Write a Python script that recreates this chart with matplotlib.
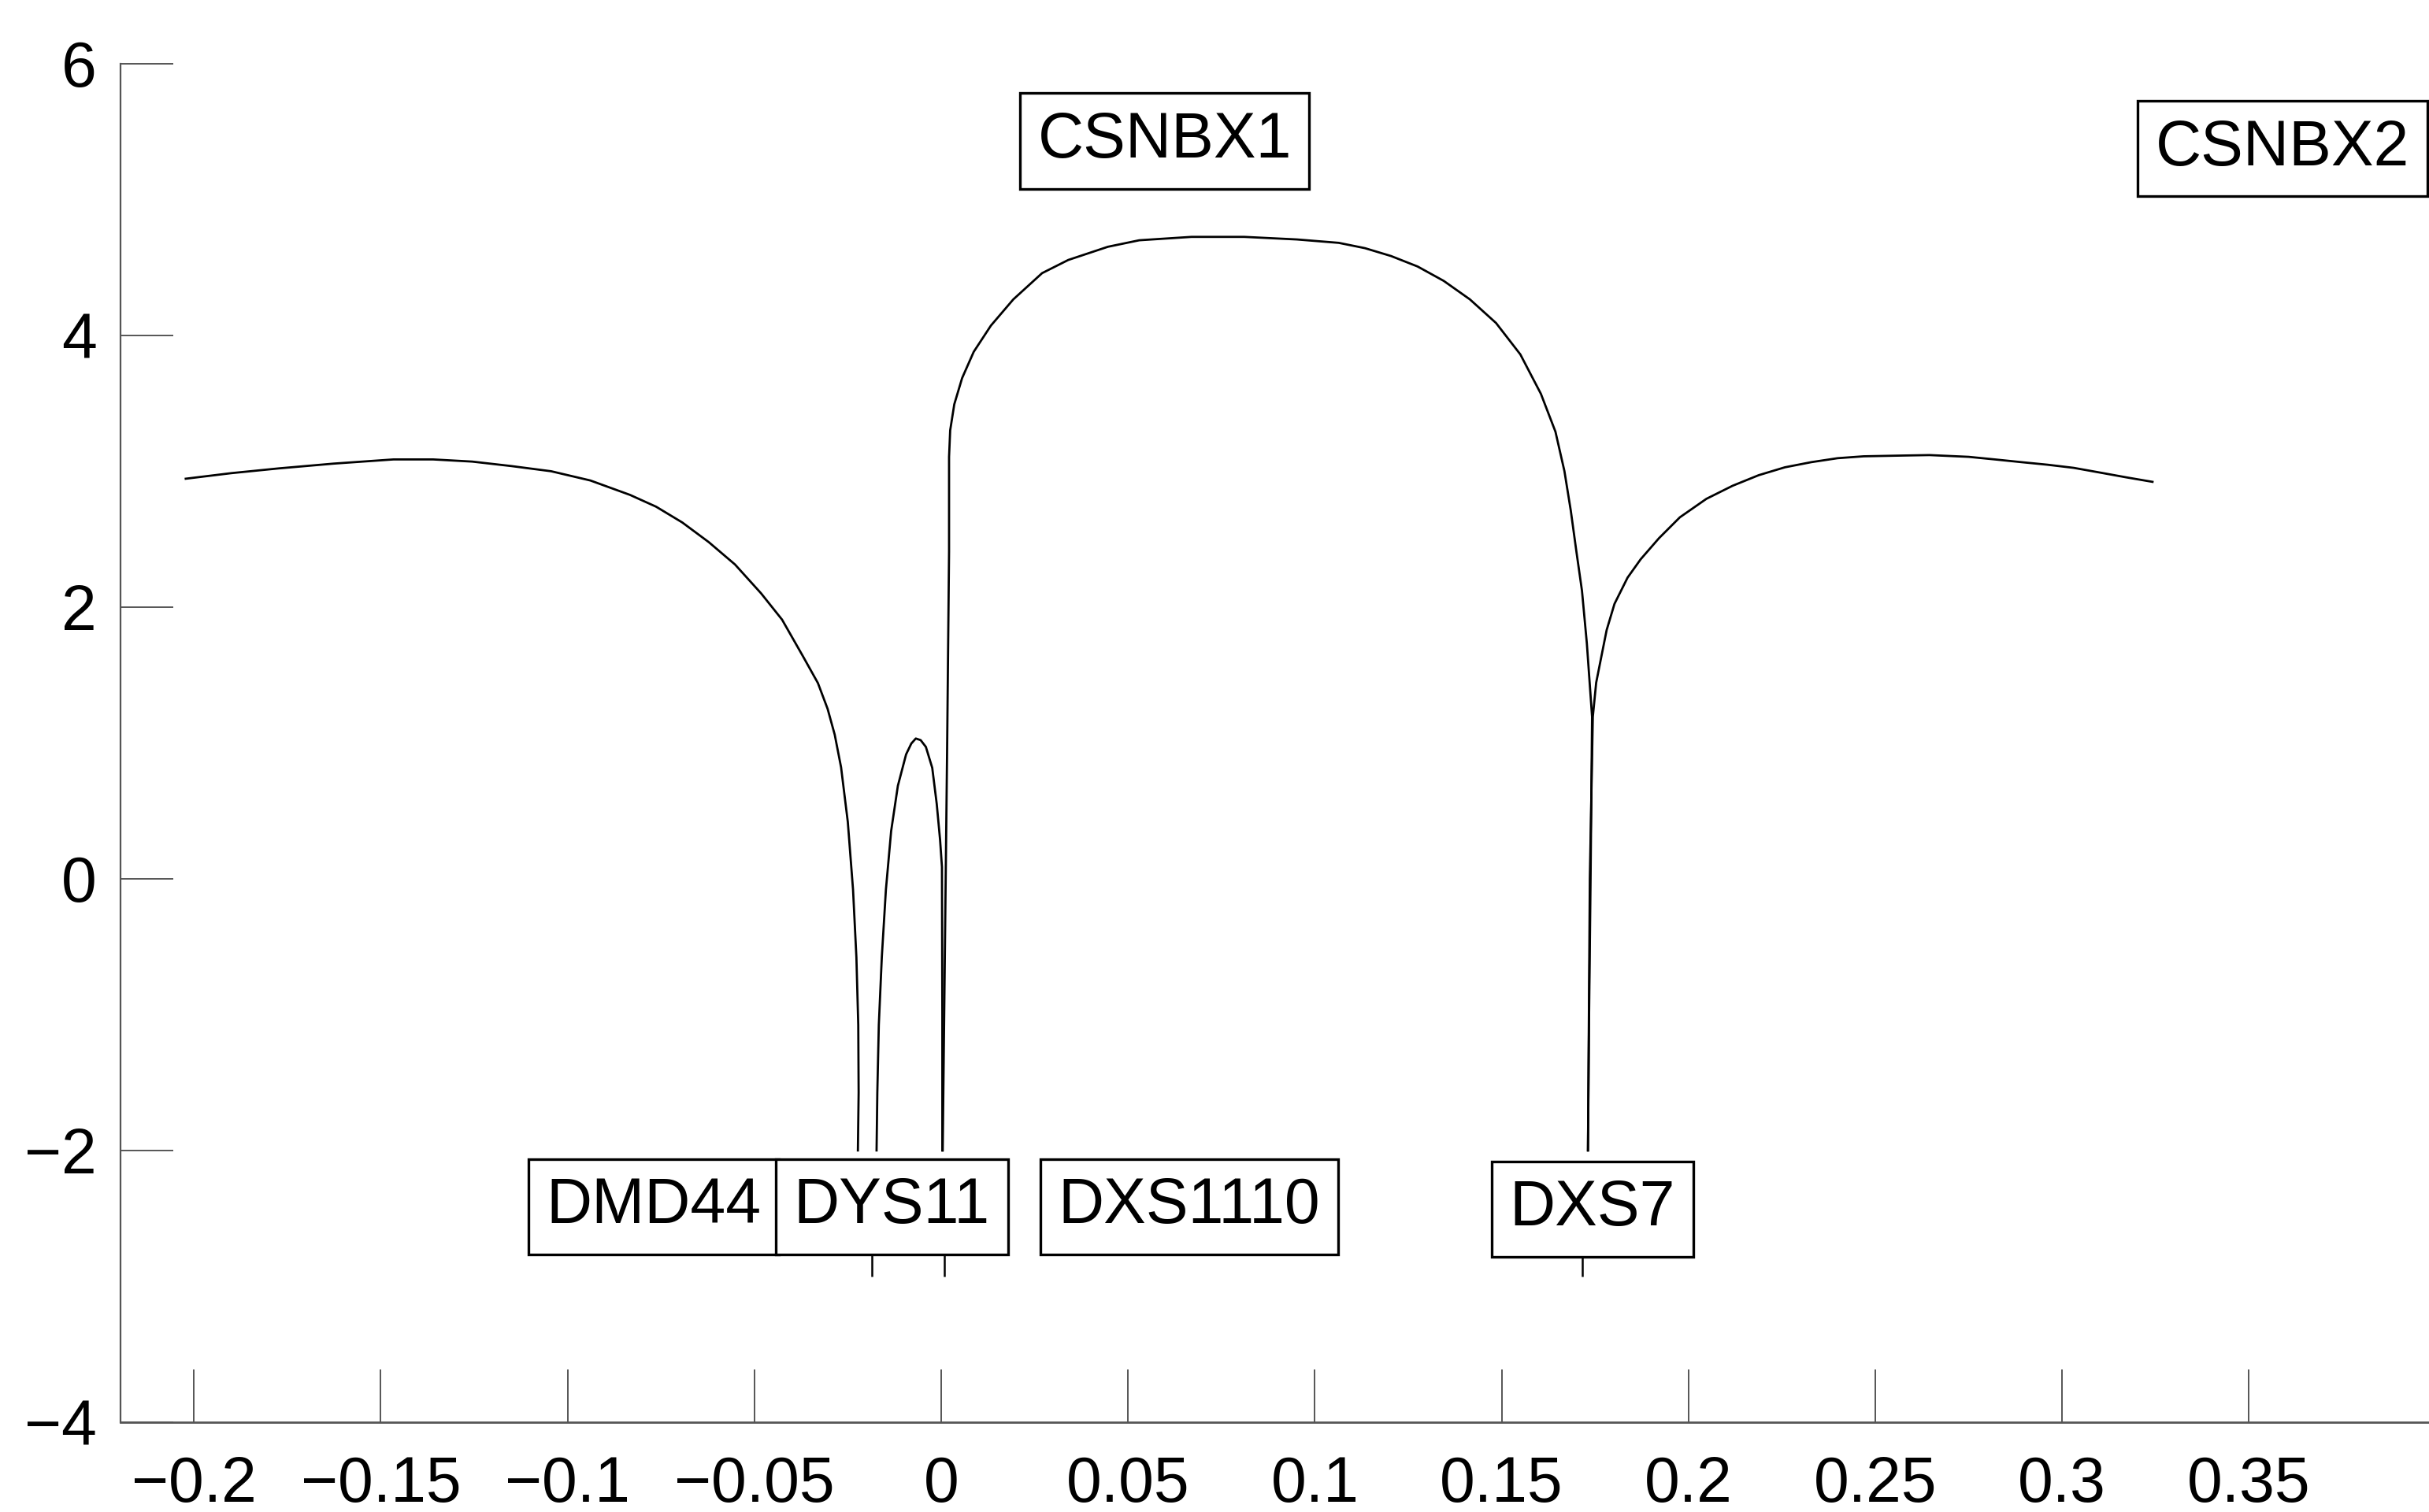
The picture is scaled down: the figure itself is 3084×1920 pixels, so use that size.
import matplotlib
matplotlib.use("Agg")
import matplotlib.pyplot as plt

plt.rcParams['font.family'] = ['Liberation Sans', 'DejaVu Sans']

# ---- data ----
# left LOD segment (ends at marker DMD44/DYS11)
seg1_x = [-0.2022, -0.1900, -0.1773, -0.1627, -0.1466, -0.1360, -0.1255, -0.1150,
          -0.1044, -0.0939, -0.0833, -0.0763, -0.0693, -0.0622, -0.0552, -0.0482,
          -0.0426, -0.0370, -0.0330, -0.0304, -0.0285, -0.0268, -0.0250, -0.0236,
          -0.0227, -0.0222, -0.0221, -0.0223]
seg1_y = [2.944, 2.985, 3.020, 3.055, 3.086, 3.086, 3.070, 3.037,
          2.999, 2.931, 2.825, 2.738, 2.622, 2.477, 2.313, 2.100,
          1.907, 1.637, 1.440, 1.250, 1.060, 0.820, 0.418, -0.080,
          -0.578, -1.076, -1.574, -2.0]

# small peak between DYS11 and DXS1110
seg2_x = [-0.0173, -0.0171, -0.0167, -0.0159, -0.0148, -0.0134, -0.0116, -0.0094,
          -0.0080, -0.0068, -0.0055, -0.0041, -0.0024, -0.0012, -0.0003, 0.0002,
          0.0003, 0.0003]
seg2_y = [-2.0, -1.574, -1.076, -0.578, -0.080, 0.351, 0.684, 0.915,
          0.995, 1.032, 1.020, 0.970, 0.816, 0.551, 0.285, 0.086,
          -1.0, -2.0]

# central hump between DXS1110 and DXS7
seg3_x = [0.0004, 0.0010, 0.0016, 0.0021, 0.0021, 0.0024, 0.0035, 0.0056, 0.0087,
          0.0133, 0.0193, 0.0270, 0.0340, 0.0446, 0.0530, 0.0670, 0.0811, 0.0952,
          0.1064, 0.1134, 0.1204, 0.1275, 0.1345, 0.1415, 0.1485, 0.1550, 0.1605,
          0.1644, 0.1668, 0.1685, 0.1700, 0.1715, 0.1728, 0.1738, 0.1742, 0.1738,
          0.1734, 0.1731]
seg3_y = [-2.0, -0.5, 1.0, 2.409, 3.105, 3.300, 3.492, 3.685, 3.878,
          4.071, 4.264, 4.457, 4.554, 4.651, 4.699, 4.724, 4.724, 4.705,
          4.680, 4.641, 4.583, 4.506, 4.400, 4.264, 4.090, 3.859, 3.569,
          3.290, 3.000, 2.710, 2.409, 2.119, 1.733, 1.347, 1.192, 0.0,
          -1.0, -2.0]

# right segment after DXS7
seg4_x = [0.1731, 0.1736, 0.1744, 0.1753, 0.1767, 0.1781, 0.1802, 0.1837, 0.1872,
          0.1921, 0.1977, 0.2048, 0.2118, 0.2188, 0.2258, 0.2329, 0.2399, 0.2469,
          0.2582, 0.2645, 0.2750, 0.2820, 0.2891, 0.2961, 0.3031, 0.3102, 0.3172,
          0.3242]
seg4_y = [-2.0, 0.0, 1.192, 1.443, 1.637, 1.830, 2.023, 2.216, 2.351,
          2.506, 2.660, 2.796, 2.892, 2.970, 3.028, 3.066, 3.095, 3.109,
          3.115, 3.118, 3.105, 3.086, 3.066, 3.047, 3.024, 2.989, 2.954,
          2.921]

marker_x = [-0.0185, 0.0009, 0.1716]

labels = ["DMD44", "DYS11", "DXS1110", "DXS7", "CSNBX1", "CSNBX2"]
label_x = [-0.0770, -0.0132, 0.0664, 0.1743, 0.0598, 0.3590]
label_y = [-2.415, -2.415, -2.415, -2.43, 5.43, 5.373]

xticks = [-0.2, -0.15, -0.1, -0.05, 0, 0.05, 0.1, 0.15, 0.2, 0.25, 0.3, 0.35]
xtick_labels = ["\u22120.2", "\u22120.15", "\u22120.1", "\u22120.05", "0", "0.05",
                "0.1", "0.15", "0.2", "0.25", "0.3", "0.35"]
yticks = [-4, -2, 0, 2, 4, 6]
ytick_labels = ["\u22124", "\u22122", "0", "2", "4", "6"]

# ---- figure ----
fig = plt.figure(figsize=(15.42, 9.6), dpi=200)
ax = fig.add_axes([0.0497, 0.0594, 0.9503, 0.8986])

for sx, sy in [(seg1_x, seg1_y), (seg2_x, seg2_y), (seg3_x, seg3_y), (seg4_x, seg4_y)]:
    ax.plot(sx, sy, color='black', lw=1.0, solid_joinstyle='round', zorder=2)

ax.vlines(marker_x, -2.93, -2.6, color='black', lw=0.9, zorder=1)

for t, x, y in zip(labels, label_x, label_y):
    ax.text(x, y, t, ha='center', va='center', fontsize=29, color='black', zorder=5,
            bbox=dict(boxstyle='square,pad=0.28', facecolor='white',
                      edgecolor='black', linewidth=1.2))

ax.set_xlim(-0.2196, 0.3982)
ax.set_ylim(-4, 6)
ax.set_xticks(xticks)
ax.set_xticklabels(xtick_labels)
ax.set_yticks(yticks)
ax.set_yticklabels(ytick_labels)

for s in ['top', 'right']:
    ax.spines[s].set_visible(False)
ax.spines['left'].set_color('#555555')
ax.spines['left'].set_linewidth(0.8)
ax.spines['bottom'].set_color('#555555')
ax.spines['bottom'].set_linewidth(1.0)

ax.tick_params(axis='both', direction='in', length=24, width=0.7,
               color='#555555', labelsize=29, labelcolor='black')
ax.tick_params(axis='x', pad=15)
ax.tick_params(axis='y', pad=11)

fig.savefig('out.png', dpi=200, facecolor='white')
